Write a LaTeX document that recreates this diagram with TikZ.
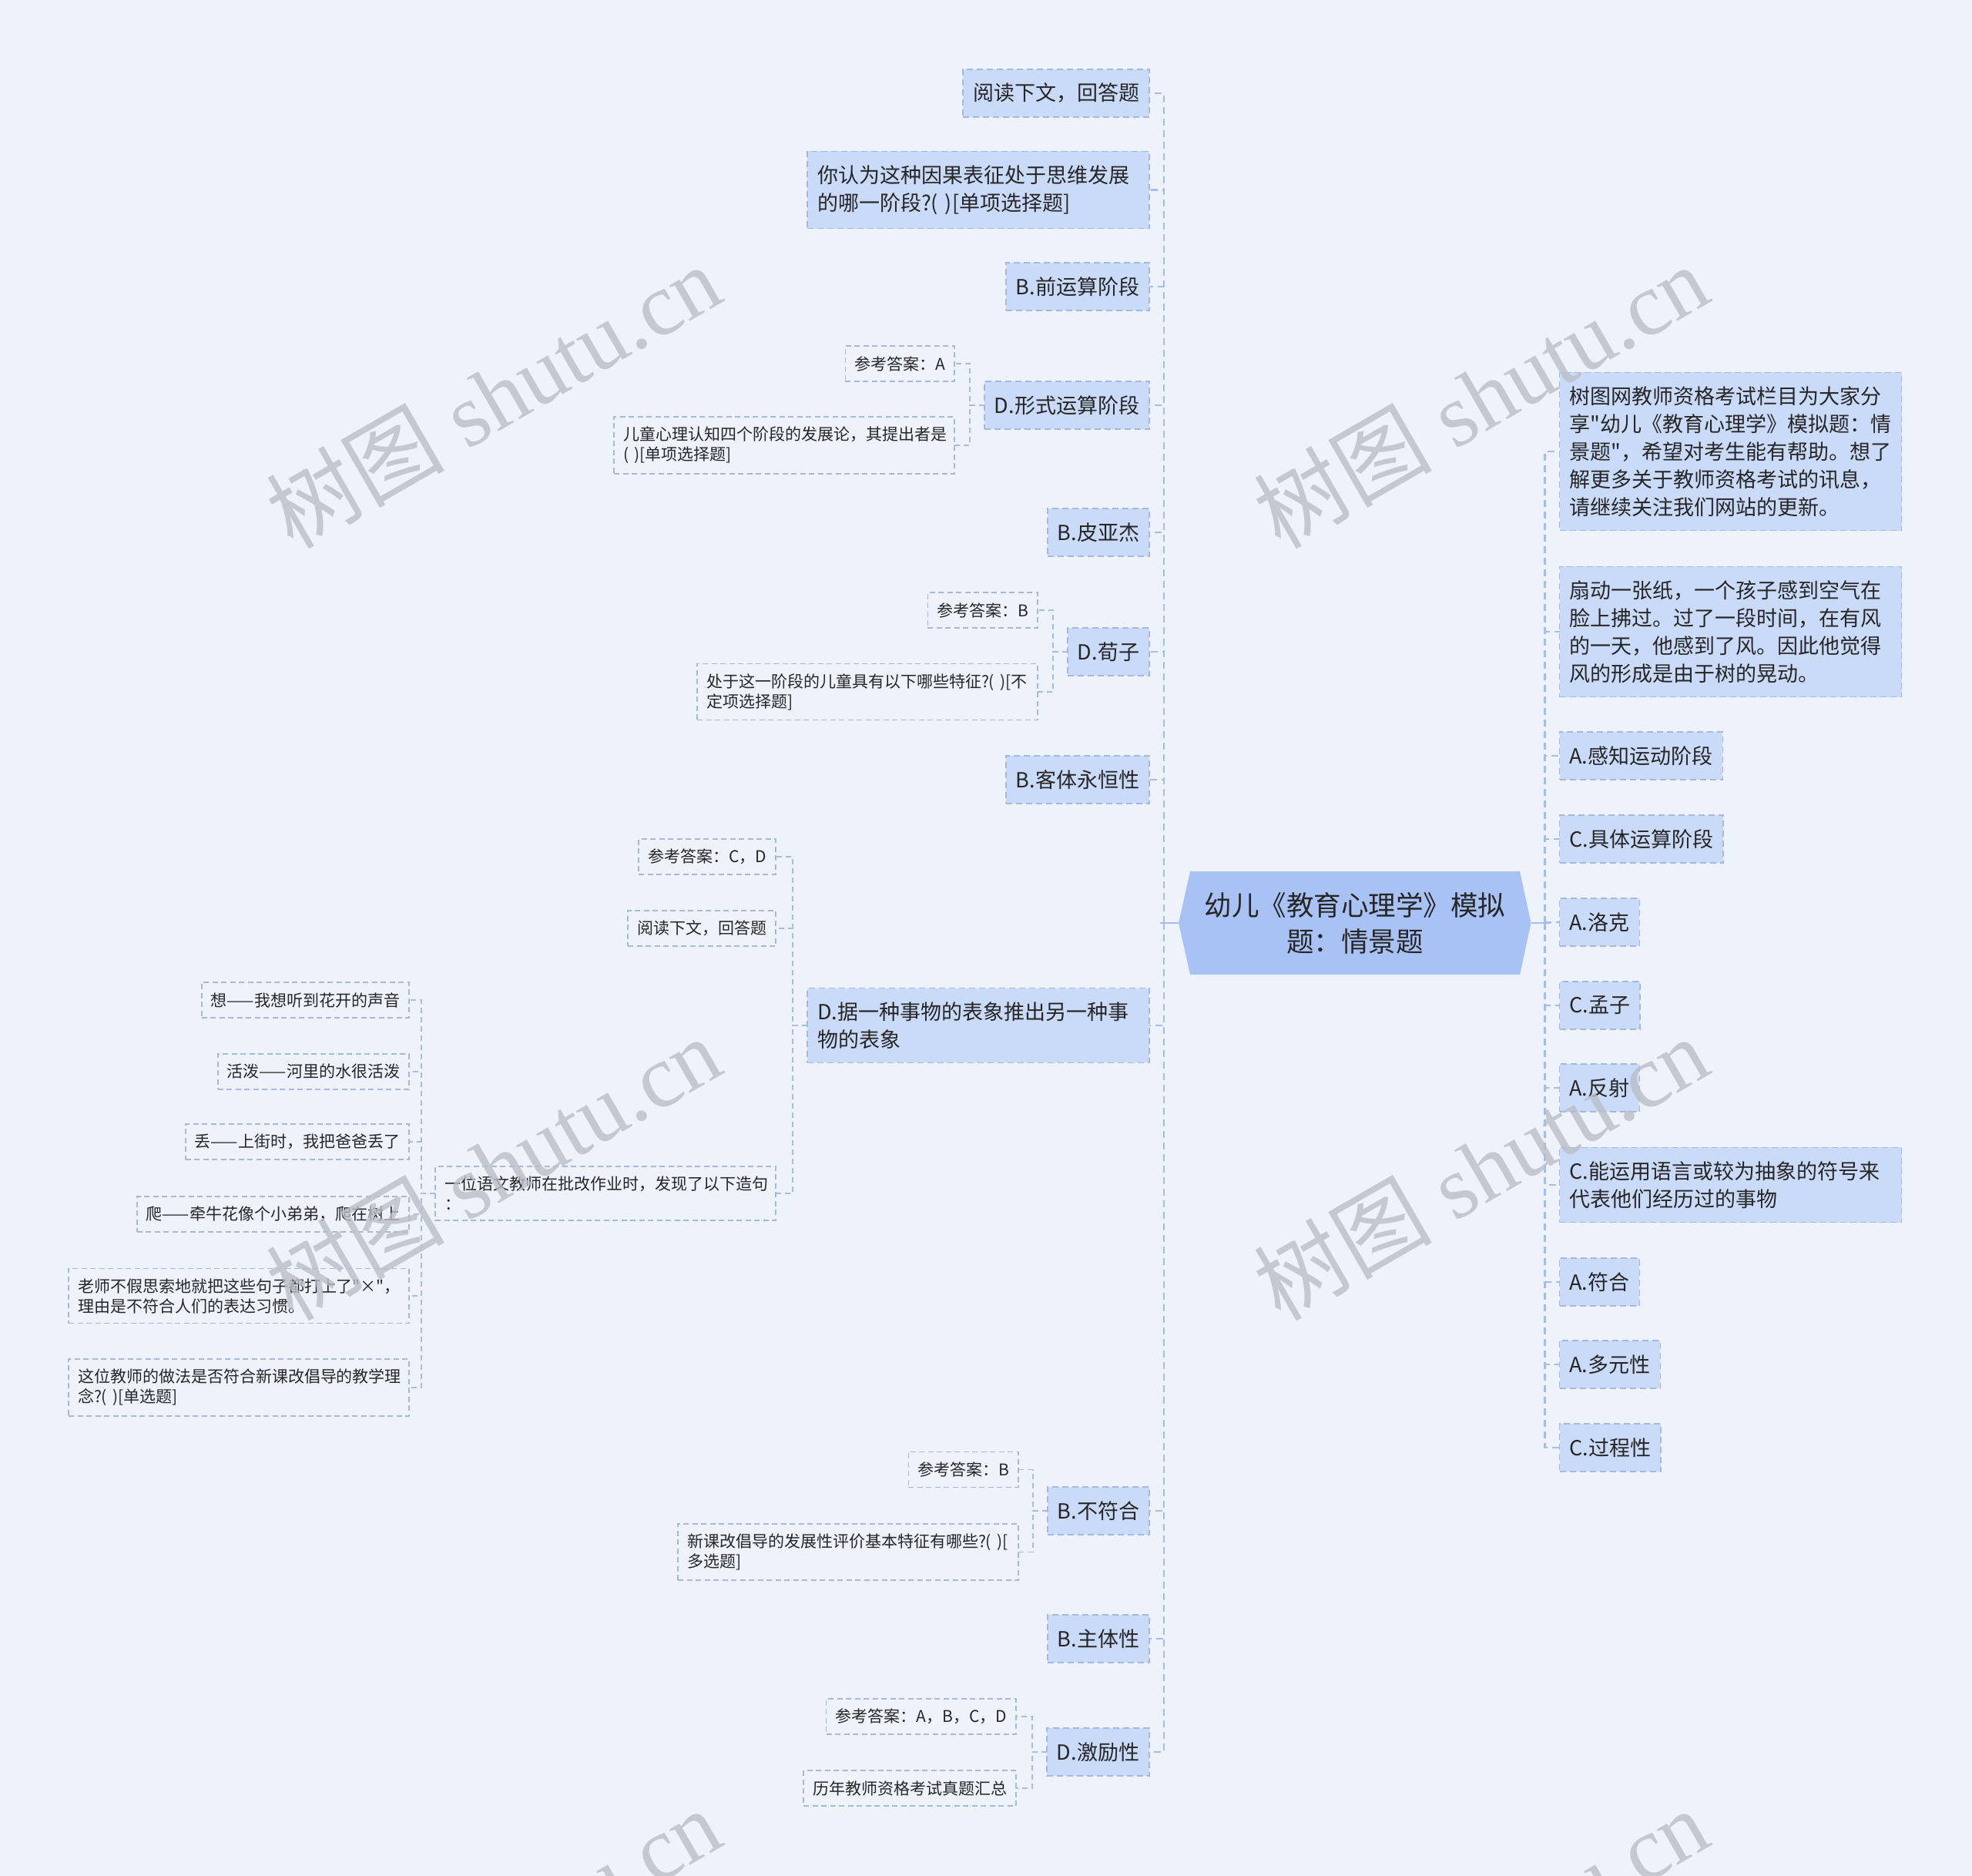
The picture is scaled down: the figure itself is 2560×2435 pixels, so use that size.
\documentclass[tikz,border=0pt]{standalone}
\usepackage{fontspec}
\newfontfamily\cjk{Noto Sans CJK SC}
\newfontfamily\wmserif{Liberation Serif}
\definecolor{bgblue}{HTML}{EEF3FB}
\definecolor{topicfill}{HTML}{CADAF9}
\definecolor{rootfill}{HTML}{A9C2F6}
\definecolor{bordblue}{HTML}{A6B8DE}
\definecolor{linkblue}{HTML}{A5BDEC}
\definecolor{inkgray}{HTML}{262626}
\definecolor{wmgray}{HTML}{B9BEC7}

\begin{document}
\begin{tikzpicture}[x=1pt,y=-1pt,line join=miter,
  every node/.style={inner sep=0pt,outer sep=0pt,text=inkgray},
  topic/.style={draw=bordblue,line width=1.6pt,dash pattern=on 8pt off 5pt,fill=topicfill,
    font=\cjk\fontsize{27pt}{36pt}\selectfont,inner xsep=13pt,inner ysep=18pt,minimum height=62pt},
  leaf/.style={draw=bordblue,line width=1.4pt,dash pattern=on 7pt off 4.5pt,
    font=\cjk\fontsize{21pt}{26pt}\selectfont,inner xsep=12pt,inner ysep=13pt,minimum height=46pt},
  wide/.style={text width=418pt,align=left},
  link/.style={draw=linkblue,line width=2.6pt,dash pattern=on 9pt off 6pt},
  sublink/.style={draw=linkblue,line width=1.6pt,dash pattern=on 7pt off 5pt},
  rootlink/.style={draw=linkblue,line width=2.6pt},
  wmtext/.style={text=wmgray,text opacity=0.8,font=\wmserif\fontsize{116pt}{116pt}\selectfont}]
  % 画布 2560×2435px，1px 记作 1pt，y 轴向下（坐标即源图像素）
  \path[use as bounding box] (0,0) rectangle (2560,2435);
  \fill[bgblue] (0,0) rectangle (2560,2435);
  % ---- 中心主题：六边形，尖端在左右两侧 ----
  \coordinate (H1) at (1530,1198);   % 左尖
  \coordinate (H2) at (1545,1131);
  \coordinate (H3) at (1973,1131);
  \coordinate (H4) at (1987.5,1198); % 右尖
  \coordinate (H5) at (1973,1265);
  \coordinate (H6) at (1545,1265);
  \fill[rootfill] (H1) -- (H2) -- (H3) -- (H4) -- (H5) -- (H6) -- cycle;
  \node[font=\cjk\fontsize{35.5pt}{47pt}\selectfont,align=center,
    minimum width=457.5pt,minimum height=134pt] (root) at (1758.75,1198)
    {幼儿《教育心理学》模拟\\题：情景题};
  % ---- 左侧一级主题：右边缘 x=1492 ----
  \node[topic,anchor=east] (L1) at (1492,121) {阅读下文，回答题};
  \node[topic,wide,anchor=east] (L2) at (1492,246.5) {你认为这种因果表征处于思维发展\\的哪一阶段?( )[单项选择题]};
  \node[topic,anchor=east] (L3) at (1492,372) {B.前运算阶段};
  \node[topic,anchor=east] (L4) at (1492,526) {D.形式运算阶段};
  \node[topic,anchor=east] (L5) at (1492,691) {B.皮亚杰};
  \node[topic,anchor=east] (L6) at (1492,846) {D.荀子};
  \node[topic,anchor=east] (L7) at (1492,1012) {B.客体永恒性};
  \node[topic,wide,anchor=east] (L8) at (1492,1331) {D.据一种事物的表象推出另一种事\\物的表象};
  \node[topic,anchor=east] (L9) at (1492,1961) {B.不符合};
  \node[topic,anchor=east] (L10) at (1492,2127) {B.主体性};
  \node[topic,anchor=east] (L11) at (1492,2274) {D.激励性};
  % ---- 左侧二、三级：无底色，虚线框 ----
  \node[leaf,anchor=east] (L4a) at (1239,472) {参考答案：A};
  \node[leaf,wide,anchor=east] (L4b) at (1239,578) {儿童心理认知四个阶段的发展论，其提出者是\\( )[单项选择题]};
  \node[leaf,anchor=east] (L6a) at (1347,792) {参考答案：B};
  \node[leaf,wide,anchor=east] (L6b) at (1347,898) {处于这一阶段的儿童具有以下哪些特征?( )[不\\定项选择题]};
  \node[leaf,anchor=east] (L8a) at (1007,1112) {参考答案：C，D};
  \node[leaf,anchor=east] (L8b) at (1007,1205) {阅读下文，回答题};
  \node[leaf,wide,anchor=east] (L8c) at (1007,1549) {一位语文教师在批改作业时，发现了以下造句\\：};
  \node[leaf,anchor=east] (L8c1) at (531,1298) {想——我想听到花开的声音};
  \node[leaf,anchor=east] (L8c2) at (531,1391) {活泼——河里的水很活泼};
  \node[leaf,anchor=east] (L8c3) at (531,1482) {丢——上街时，我把爸爸丢了};
  \node[leaf,anchor=east] (L8c4) at (531,1576) {爬——牵牛花像个小弟弟，爬在树上};
  \node[leaf,wide,anchor=east] (L8c5) at (531,1682) {老师不假思索地就把这些句子都打上了"×"，\\理由是不符合人们的表达习惯。};
  \node[leaf,wide,anchor=east] (L8c6) at (531,1801) {这位教师的做法是否符合新课改倡导的教学理\\念?( )[单选题]};
  \node[leaf,anchor=east] (L9a) at (1322,1907.5) {参考答案：B};
  \node[leaf,wide,anchor=east] (L9b) at (1322,2014.5) {新课改倡导的发展性评价基本特征有哪些?( )[\\多选题]};
  \node[leaf,anchor=east] (L11a) at (1319,2228) {参考答案：A，B，C，D};
  \node[leaf,anchor=east] (L11b) at (1319,2321) {历年教师资格考试真题汇总};
  % ---- 右侧一级主题：左边缘 x=2024.5 ----
  \node[topic,wide,anchor=west] (R1) at (2024.5,586) {树图网教师资格考试栏目为大家分\\享"幼儿《教育心理学》模拟题：情\\景题"，希望对考生能有帮助。想了\\解更多关于教师资格考试的讯息，\\请继续关注我们网站的更新。};
  \node[topic,wide,anchor=west] (R2) at (2024.5,820) {扇动一张纸，一个孩子感到空气在\\脸上拂过。过了一段时间，在有风\\的一天，他感到了风。因此他觉得\\风的形成是由于树的晃动。};
  \node[topic,anchor=west] (R3) at (2024.5,981) {A.感知运动阶段};
  \node[topic,anchor=west] (R4) at (2024.5,1089) {C.具体运算阶段};
  \node[topic,anchor=west] (R5) at (2024.5,1197) {A.洛克};
  \node[topic,anchor=west] (R6) at (2024.5,1305) {C.孟子};
  \node[topic,anchor=west] (R7) at (2024.5,1412) {A.反射};
  \node[topic,wide,anchor=west] (R8) at (2024.5,1538) {C.能运用语言或较为抽象的符号来\\代表他们经历过的事物};
  \node[topic,anchor=west] (R9) at (2024.5,1664) {A.符合};
  \node[topic,anchor=west] (R10) at (2024.5,1771) {A.多元性};
  \node[topic,anchor=west] (R11) at (2024.5,1879) {C.过程性};
  % ---- 连线：中心短实线 + 竖向虚线主干 ----
  \draw[rootlink] (root.west) -- ++(-24,0);
  \draw[rootlink] (root.east) -- ++(25,0);
  \foreach \i in {1,...,11} \draw[link] ([xshift=-19pt]root.west) |- (L\i.east);
  \foreach \i in {1,...,11} \draw[link] ([xshift=18pt]root.east) |- (R\i.west);
  \foreach \p/\c in {L4/L4a,L4/L4b,L6/L6a,L6/L6b,L8/L8a,L8/L8b,L8/L8c,L9/L9a,L9/L9b,L11/L11a,L11/L11b}
    \draw[sublink] (\p.west) -- ++(-19,0) |- (\c.east);
  \foreach \i in {1,...,6} \draw[sublink] (L8c.west) -- ++(-18,0) |- (L8c\i.east);
  % ---- 水印：30° 斜排，横距 1280、竖距 1002 ----
  \begin{scope}
    \clip (0,0) rectangle (2560,2435);
    \foreach \wx in {640,1922} \foreach \wy in {514,1516,2518}
      \node[wmtext,rotate=30] at (\wx,\wy) {{\cjk 树图} shutu.cn};
  \end{scope}
\end{tikzpicture}
\end{document}
